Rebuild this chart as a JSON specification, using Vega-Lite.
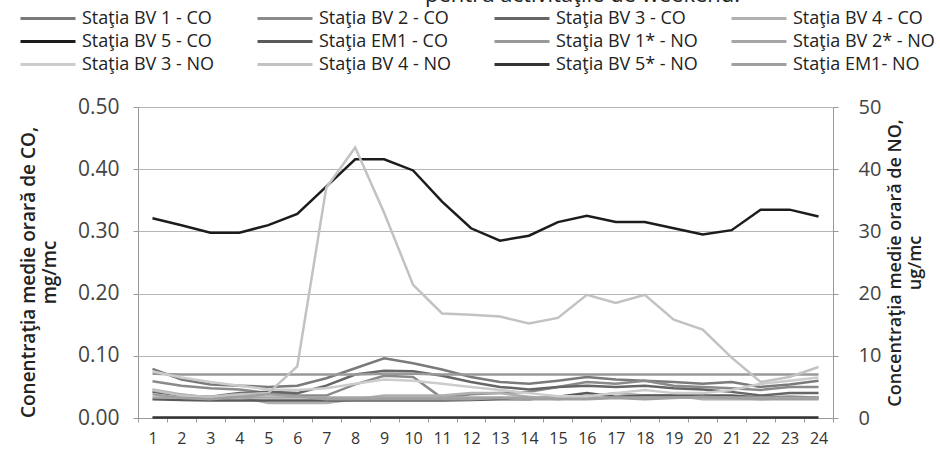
{
  "$schema": "https://vega.github.io/schema/vega-lite/v6.json",
  "width": 695,
  "height": 311,
  "autosize": {"type": "none"},
  "padding": {"left": 138, "top": 107, "right": 107, "bottom": 40},
  "background": "white",
  "title": {
    "text": "pentru activităţile de weekend.",
    "frame": "group",
    "anchor": "start",
    "dx": 287,
    "offset": 0,
    "fontSize": 22,
    "fontWeight": "normal",
    "font": "Open Sans",
    "color": "#222"
  },
  "config": {
    "view": {"stroke": null},
    "font": "Open Sans"
  },
  "data": {
    "values": [
      {"ora": 1, "Staţia BV 1 - CO": 0.079, "Staţia BV 2 - CO": 0.059, "Staţia BV 3 - CO": 0.042, "Staţia BV 4 - CO": 0.046, "Staţia BV 5 - CO": 0.321, "Staţia EM1 - CO": 0.030, "Staţia BV 1* - NO": 7.1, "Staţia BV 2* - NO": 3.3, "Staţia BV 3 - NO": 7.5, "Staţia BV 4 - NO": 4.5, "Staţia BV 5* - NO": 0.1, "Staţia EM1- NO": 3.8},
      {"ora": 2, "Staţia BV 1 - CO": 0.062, "Staţia BV 2 - CO": 0.052, "Staţia BV 3 - CO": 0.036, "Staţia BV 4 - CO": 0.038, "Staţia BV 5 - CO": 0.310, "Staţia EM1 - CO": 0.029, "Staţia BV 1* - NO": 7.0, "Staţia BV 2* - NO": 3.3, "Staţia BV 3 - NO": 6.5, "Staţia BV 4 - NO": 3.6, "Staţia BV 5* - NO": 0.1, "Staţia EM1- NO": 3.2},
      {"ora": 3, "Staţia BV 1 - CO": 0.054, "Staţia BV 2 - CO": 0.048, "Staţia BV 3 - CO": 0.034, "Staţia BV 4 - CO": 0.032, "Staţia BV 5 - CO": 0.298, "Staţia EM1 - CO": 0.028, "Staţia BV 1* - NO": 7.0, "Staţia BV 2* - NO": 3.3, "Staţia BV 3 - NO": 5.8, "Staţia BV 4 - NO": 3.4, "Staţia BV 5* - NO": 0.1, "Staţia EM1- NO": 3.0},
      {"ora": 4, "Staţia BV 1 - CO": 0.052, "Staţia BV 2 - CO": 0.046, "Staţia BV 3 - CO": 0.040, "Staţia BV 4 - CO": 0.034, "Staţia BV 5 - CO": 0.298, "Staţia EM1 - CO": 0.028, "Staţia BV 1* - NO": 7.0, "Staţia BV 2* - NO": 3.3, "Staţia BV 3 - NO": 5.2, "Staţia BV 4 - NO": 3.8, "Staţia BV 5* - NO": 0.1, "Staţia EM1- NO": 3.4},
      {"ora": 5, "Staţia BV 1 - CO": 0.050, "Staţia BV 2 - CO": 0.040, "Staţia BV 3 - CO": 0.042, "Staţia BV 4 - CO": 0.024, "Staţia BV 5 - CO": 0.310, "Staţia EM1 - CO": 0.028, "Staţia BV 1* - NO": 7.0, "Staţia BV 2* - NO": 3.3, "Staţia BV 3 - NO": 4.6, "Staţia BV 4 - NO": 4.0, "Staţia BV 5* - NO": 0.1, "Staţia EM1- NO": 3.8},
      {"ora": 6, "Staţia BV 1 - CO": 0.052, "Staţia BV 2 - CO": 0.036, "Staţia BV 3 - CO": 0.040, "Staţia BV 4 - CO": 0.024, "Staţia BV 5 - CO": 0.328, "Staţia EM1 - CO": 0.028, "Staţia BV 1* - NO": 7.0, "Staţia BV 2* - NO": 3.3, "Staţia BV 3 - NO": 4.5, "Staţia BV 4 - NO": 8.3, "Staţia BV 5* - NO": 0.1, "Staţia EM1- NO": 3.5},
      {"ora": 7, "Staţia BV 1 - CO": 0.064, "Staţia BV 2 - CO": 0.036, "Staţia BV 3 - CO": 0.052, "Staţia BV 4 - CO": 0.024, "Staţia BV 5 - CO": 0.372, "Staţia EM1 - CO": 0.028, "Staţia BV 1* - NO": 7.0, "Staţia BV 2* - NO": 3.3, "Staţia BV 3 - NO": 4.8, "Staţia BV 4 - NO": 37.0, "Staţia BV 5* - NO": 0.1, "Staţia EM1- NO": 3.0},
      {"ora": 8, "Staţia BV 1 - CO": 0.080, "Staţia BV 2 - CO": 0.054, "Staţia BV 3 - CO": 0.070, "Staţia BV 4 - CO": 0.030, "Staţia BV 5 - CO": 0.416, "Staţia EM1 - CO": 0.028, "Staţia BV 1* - NO": 7.0, "Staţia BV 2* - NO": 3.3, "Staţia BV 3 - NO": 5.5, "Staţia BV 4 - NO": 43.5, "Staţia BV 5* - NO": 0.1, "Staţia EM1- NO": 3.0},
      {"ora": 9, "Staţia BV 1 - CO": 0.096, "Staţia BV 2 - CO": 0.068, "Staţia BV 3 - CO": 0.076, "Staţia BV 4 - CO": 0.036, "Staţia BV 5 - CO": 0.416, "Staţia EM1 - CO": 0.028, "Staţia BV 1* - NO": 7.1, "Staţia BV 2* - NO": 3.3, "Staţia BV 3 - NO": 6.2, "Staţia BV 4 - NO": 33.0, "Staţia BV 5* - NO": 0.1, "Staţia EM1- NO": 3.0},
      {"ora": 10, "Staţia BV 1 - CO": 0.088, "Staţia BV 2 - CO": 0.066, "Staţia BV 3 - CO": 0.075, "Staţia BV 4 - CO": 0.036, "Staţia BV 5 - CO": 0.398, "Staţia EM1 - CO": 0.028, "Staţia BV 1* - NO": 7.1, "Staţia BV 2* - NO": 3.3, "Staţia BV 3 - NO": 6.0, "Staţia BV 4 - NO": 21.4, "Staţia BV 5* - NO": 0.1, "Staţia EM1- NO": 3.0},
      {"ora": 11, "Staţia BV 1 - CO": 0.078, "Staţia BV 2 - CO": 0.032, "Staţia BV 3 - CO": 0.068, "Staţia BV 4 - CO": 0.036, "Staţia BV 5 - CO": 0.348, "Staţia EM1 - CO": 0.028, "Staţia BV 1* - NO": 7.0, "Staţia BV 2* - NO": 3.3, "Staţia BV 3 - NO": 5.5, "Staţia BV 4 - NO": 16.8, "Staţia BV 5* - NO": 0.1, "Staţia EM1- NO": 3.0},
      {"ora": 12, "Staţia BV 1 - CO": 0.066, "Staţia BV 2 - CO": 0.038, "Staţia BV 3 - CO": 0.058, "Staţia BV 4 - CO": 0.040, "Staţia BV 5 - CO": 0.305, "Staţia EM1 - CO": 0.029, "Staţia BV 1* - NO": 7.0, "Staţia BV 2* - NO": 3.3, "Staţia BV 3 - NO": 5.0, "Staţia BV 4 - NO": 16.6, "Staţia BV 5* - NO": 0.1, "Staţia EM1- NO": 3.0},
      {"ora": 13, "Staţia BV 1 - CO": 0.058, "Staţia BV 2 - CO": 0.040, "Staţia BV 3 - CO": 0.050, "Staţia BV 4 - CO": 0.040, "Staţia BV 5 - CO": 0.285, "Staţia EM1 - CO": 0.030, "Staţia BV 1* - NO": 7.0, "Staţia BV 2* - NO": 3.3, "Staţia BV 3 - NO": 4.5, "Staţia BV 4 - NO": 16.3, "Staţia BV 5* - NO": 0.1, "Staţia EM1- NO": 3.2},
      {"ora": 14, "Staţia BV 1 - CO": 0.055, "Staţia BV 2 - CO": 0.042, "Staţia BV 3 - CO": 0.046, "Staţia BV 4 - CO": 0.034, "Staţia BV 5 - CO": 0.293, "Staţia EM1 - CO": 0.030, "Staţia BV 1* - NO": 7.0, "Staţia BV 2* - NO": 3.3, "Staţia BV 3 - NO": 4.0, "Staţia BV 4 - NO": 15.2, "Staţia BV 5* - NO": 0.1, "Staţia EM1- NO": 3.0},
      {"ora": 15, "Staţia BV 1 - CO": 0.060, "Staţia BV 2 - CO": 0.050, "Staţia BV 3 - CO": 0.050, "Staţia BV 4 - CO": 0.030, "Staţia BV 5 - CO": 0.315, "Staţia EM1 - CO": 0.034, "Staţia BV 1* - NO": 7.0, "Staţia BV 2* - NO": 3.3, "Staţia BV 3 - NO": 3.5, "Staţia BV 4 - NO": 16.1, "Staţia BV 5* - NO": 0.1, "Staţia EM1- NO": 3.0},
      {"ora": 16, "Staţia BV 1 - CO": 0.066, "Staţia BV 2 - CO": 0.058, "Staţia BV 3 - CO": 0.052, "Staţia BV 4 - CO": 0.034, "Staţia BV 5 - CO": 0.325, "Staţia EM1 - CO": 0.040, "Staţia BV 1* - NO": 7.0, "Staţia BV 2* - NO": 3.3, "Staţia BV 3 - NO": 3.5, "Staţia BV 4 - NO": 19.8, "Staţia BV 5* - NO": 0.1, "Staţia EM1- NO": 3.0},
      {"ora": 17, "Staţia BV 1 - CO": 0.062, "Staţia BV 2 - CO": 0.055, "Staţia BV 3 - CO": 0.050, "Staţia BV 4 - CO": 0.040, "Staţia BV 5 - CO": 0.315, "Staţia EM1 - CO": 0.034, "Staţia BV 1* - NO": 7.0, "Staţia BV 2* - NO": 3.3, "Staţia BV 3 - NO": 4.0, "Staţia BV 4 - NO": 18.5, "Staţia BV 5* - NO": 0.1, "Staţia EM1- NO": 3.2},
      {"ora": 18, "Staţia BV 1 - CO": 0.060, "Staţia BV 2 - CO": 0.060, "Staţia BV 3 - CO": 0.052, "Staţia BV 4 - CO": 0.036, "Staţia BV 5 - CO": 0.315, "Staţia EM1 - CO": 0.036, "Staţia BV 1* - NO": 7.0, "Staţia BV 2* - NO": 3.3, "Staţia BV 3 - NO": 4.5, "Staţia BV 4 - NO": 19.8, "Staţia BV 5* - NO": 0.1, "Staţia EM1- NO": 3.0},
      {"ora": 19, "Staţia BV 1 - CO": 0.058, "Staţia BV 2 - CO": 0.052, "Staţia BV 3 - CO": 0.048, "Staţia BV 4 - CO": 0.036, "Staţia BV 5 - CO": 0.305, "Staţia EM1 - CO": 0.036, "Staţia BV 1* - NO": 7.0, "Staţia BV 2* - NO": 3.3, "Staţia BV 3 - NO": 4.0, "Staţia BV 4 - NO": 15.8, "Staţia BV 5* - NO": 0.1, "Staţia EM1- NO": 3.2},
      {"ora": 20, "Staţia BV 1 - CO": 0.055, "Staţia BV 2 - CO": 0.050, "Staţia BV 3 - CO": 0.046, "Staţia BV 4 - CO": 0.030, "Staţia BV 5 - CO": 0.295, "Staţia EM1 - CO": 0.036, "Staţia BV 1* - NO": 7.0, "Staţia BV 2* - NO": 3.3, "Staţia BV 3 - NO": 4.0, "Staţia BV 4 - NO": 14.2, "Staţia BV 5* - NO": 0.1, "Staţia EM1- NO": 3.4},
      {"ora": 21, "Staţia BV 1 - CO": 0.058, "Staţia BV 2 - CO": 0.048, "Staţia BV 3 - CO": 0.042, "Staţia BV 4 - CO": 0.030, "Staţia BV 5 - CO": 0.302, "Staţia EM1 - CO": 0.036, "Staţia BV 1* - NO": 7.0, "Staţia BV 2* - NO": 3.3, "Staţia BV 3 - NO": 4.5, "Staţia BV 4 - NO": 9.7, "Staţia BV 5* - NO": 0.1, "Staţia EM1- NO": 3.2},
      {"ora": 22, "Staţia BV 1 - CO": 0.050, "Staţia BV 2 - CO": 0.045, "Staţia BV 3 - CO": 0.036, "Staţia BV 4 - CO": 0.030, "Staţia BV 5 - CO": 0.335, "Staţia EM1 - CO": 0.033, "Staţia BV 1* - NO": 7.0, "Staţia BV 2* - NO": 3.3, "Staţia BV 3 - NO": 5.5, "Staţia BV 4 - NO": 5.8, "Staţia BV 5* - NO": 0.1, "Staţia EM1- NO": 3.0},
      {"ora": 23, "Staţia BV 1 - CO": 0.054, "Staţia BV 2 - CO": 0.050, "Staţia BV 3 - CO": 0.040, "Staţia BV 4 - CO": 0.032, "Staţia BV 5 - CO": 0.335, "Staţia EM1 - CO": 0.034, "Staţia BV 1* - NO": 7.0, "Staţia BV 2* - NO": 3.3, "Staţia BV 3 - NO": 6.0, "Staţia BV 4 - NO": 6.6, "Staţia BV 5* - NO": 0.1, "Staţia EM1- NO": 3.0},
      {"ora": 24, "Staţia BV 1 - CO": 0.060, "Staţia BV 2 - CO": 0.050, "Staţia BV 3 - CO": 0.040, "Staţia BV 4 - CO": 0.032, "Staţia BV 5 - CO": 0.324, "Staţia EM1 - CO": 0.033, "Staţia BV 1* - NO": 7.0, "Staţia BV 2* - NO": 3.3, "Staţia BV 3 - NO": 6.5, "Staţia BV 4 - NO": 8.2, "Staţia BV 5* - NO": 0.1, "Staţia EM1- NO": 3.0}
    ]
  },
  "encoding": {
    "x": {
      "field": "ora",
      "type": "ordinal",
      "bandPosition": 0.5,
      "scale": {"type": "band", "paddingInner": 0, "paddingOuter": 0},
      "axis": {
        "title": null,
        "labelAngle": 0,
        "labelFontSize": 16,
        "labelColor": "#333",
        "labelPadding": 8,
        "tickBand": "extent",
        "tickColor": "#999",
        "tickSize": 4,
        "domainColor": "#999",
        "grid": false
      }
    },
    "color": {
      "field": "serie",
      "type": "nominal",
      "scale": {
        "domain": ["Staţia BV 1 - CO", "Staţia BV 2 - CO", "Staţia BV 3 - CO", "Staţia BV 4 - CO", "Staţia BV 5 - CO", "Staţia EM1 - CO", "Staţia BV 1* - NO", "Staţia BV 2* - NO", "Staţia BV 3 - NO", "Staţia BV 4 - NO", "Staţia BV 5* - NO", "Staţia EM1- NO"],
        "range": ["#7a7a7a", "#8a8a8a", "#666666", "#b0b0b0", "#1c1c1c", "#5a5a5a", "#999999", "#a6a6a6", "#cccccc", "#c2c2c2", "#333333", "#a0a0a0"]
      },
      "legend": {
        "title": null,
        "orient": "none",
        "legendX": -119,
        "legendY": -100,
        "direction": "horizontal",
        "columns": 4,
        "gridAlign": "all",
        "columnPadding": 32,
        "rowPadding": 0,
        "clipHeight": 23,
        "symbolType": "stroke",
        "symbolSize": 3025,
        "symbolStrokeWidth": 3,
        "labelFontSize": 18,
        "labelColor": "#222",
        "labelOffset": 5,
        "labelLimit": 300
      }
    }
  },
  "layer": [
    {
      "transform": [
        {"fold": ["Staţia BV 1 - CO", "Staţia BV 2 - CO", "Staţia BV 3 - CO", "Staţia BV 4 - CO", "Staţia BV 5 - CO", "Staţia EM1 - CO"], "as": ["serie", "valoare"]}
      ],
      "mark": {"type": "line", "strokeWidth": 2.5},
      "encoding": {
        "y": {
          "field": "valoare",
          "type": "quantitative",
          "scale": {"domain": [0, 0.5], "nice": false},
          "axis": {
            "orient": "left",
            "values": [0, 0.1, 0.2, 0.3, 0.4, 0.5],
            "format": ".2f",
            "labelFontSize": 21,
            "labelColor": "#444",
            "labelPadding": 14,
            "tickColor": "#999",
            "tickSize": 5,
            "domainColor": "#999",
            "grid": true,
            "gridColor": "#b5b5b5",
            "gridWidth": 1,
            "title": ["Conentraţia medie orară de CO,", "mg/mc"],
            "titleFontSize": 19,
            "titleFontWeight": 600,
            "titleColor": "#222",
            "titlePadding": 18,
            "titleY": 165
          }
        }
      }
    },
    {
      "transform": [
        {"fold": ["Staţia BV 1* - NO", "Staţia BV 2* - NO", "Staţia BV 3 - NO", "Staţia BV 4 - NO", "Staţia BV 5* - NO", "Staţia EM1- NO"], "as": ["serie", "valoare"]}
      ],
      "mark": {"type": "line", "strokeWidth": 2.5},
      "encoding": {
        "y": {
          "field": "valoare",
          "type": "quantitative",
          "scale": {"domain": [0, 50], "nice": false},
          "axis": {
            "orient": "right",
            "values": [0, 10, 20, 30, 40, 50],
            "labelFontSize": 20,
            "labelColor": "#444",
            "labelPadding": 20,
            "tickColor": "#999",
            "tickSize": 5,
            "domainColor": "#999",
            "grid": false,
            "title": ["Concentraţia medie orară de NO,", "ug/mc"],
            "titleAngle": -90,
            "titleFontSize": 18,
            "titleFontWeight": 600,
            "titleColor": "#222",
            "titlePadding": 4
          }
        }
      }
    }
  ],
  "resolve": {"scale": {"y": "independent"}}
}
